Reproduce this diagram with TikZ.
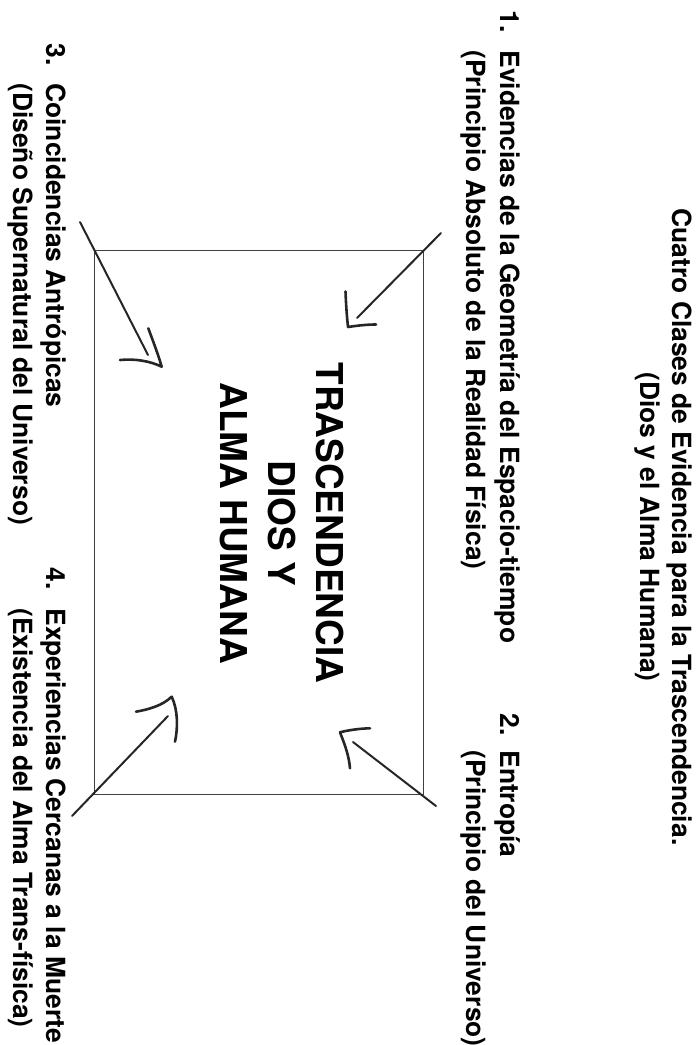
\documentclass[tikz,border=0pt]{standalone}
\usepackage{fontspec}
\setmainfont{TeX Gyre Heros}

\tikzstyle{heading} = [rotate=-90, 
inner sep=0pt, 
align=center, 
anchor=base, 
font=\bfseries\fontsize{13.2}{16}\selectfont]
\tikzstyle{itemno} = [rotate=-90, 
inner sep=0pt, 
anchor=base west, 
font=\bfseries\fontsize{13.2}{17}\selectfont]
\tikzstyle{itemtext} = [itemno, align=left]
\tikzstyle{core} = [rotate=-90, 
inner sep=0pt, 
align=center, 
anchor=base, 
font=\bfseries\fontsize{18.5}{24}\selectfont]
\tikzstyle{box} = [rectangle, 
minimum width=164.5pt, 
minimum height=272pt, 
draw=black!75, 
line width=0.5pt]
\tikzstyle{stroke} = [line width=1pt, line cap=round, draw=black!85]
\tikzstyle{head} = [line width=1.3pt, line cap=round, line join=round, draw=black!85]

\begin{document}
\begin{tikzpicture}[x=0.5pt, y=-0.5pt]
\useasboundingbox (0,0) rectangle (698,1045);

% anchors sit on the last line
\node (title) [heading] at (640,527) {Cuatro Clases de Evidencia para la Trascendencia.\\(Dios y el Alma Humana)};

\node (n1) [itemno] at (500,10) {1.};
\node (t1) [itemtext] at (466,50) {Evidencias de la Geometría del Espacio-tiempo\\(Principio Absoluto de la Realidad Física)};
\node (n2) [itemno] at (500,713) {2.};
\node (t2) [itemtext] at (466,750) {Entropía\\(Principio del Universo)};
\node (n3) [itemno] at (47,43) {3.};
\node (t3) [itemtext] at (13,83) {Coincidencias Antrópicas\\(Diseño Supernatural del Universo)};
\node (n4) [itemno] at (47,567) {4.};
\node (t4) [itemtext] at (13,608) {Experiencias Cercanas a la Muerte\\(Existencia del Alma Trans-física)};

\node (box) [box] at (258.5,522) {};
\node (center) [core] at (220,523) {TRASCENDENCIA\\DIOS Y\\ALMA HUMANA};

% hand drawn arrows into the box
\coordinate (s1) at (441,233);
\coordinate (e1) at (357,318);
\coordinate (s2) at (436,806);
\coordinate (e2) at (353,742);
\coordinate (s3) at (80,222);
\coordinate (e3) at (148,355);
\coordinate (s4) at (72,816);
\coordinate (e4) at (168,716);

\draw [stroke] (s1) -- (e1);
\draw [stroke] (s2) -- (e2);
\draw [stroke] (s3) -- (e3);
\draw [stroke] (s4) -- (e4);

\draw [head] (345.5,291.5) .. controls (346,305) and (347,318) .. (348,327) .. controls (358,325.5) and (367,324.5) .. (376,324.5);
\draw [head] (370,728.3) .. controls (360,728.5) and (349,730) .. (340,732.3) .. controls (345,745) and (349,756) .. (350,768.3);
\draw [head] (148.3,328.3) .. controls (153,341) and (158,354) .. (161.7,366.7) .. controls (150,361) and (135,358.5) .. (120,360);
\draw [head] (136,711.7) .. controls (148,709.5) and (162,706) .. (171.7,696.7) .. controls (178,710) and (178,728) .. (175,741.7);
\end{tikzpicture}
\end{document}
